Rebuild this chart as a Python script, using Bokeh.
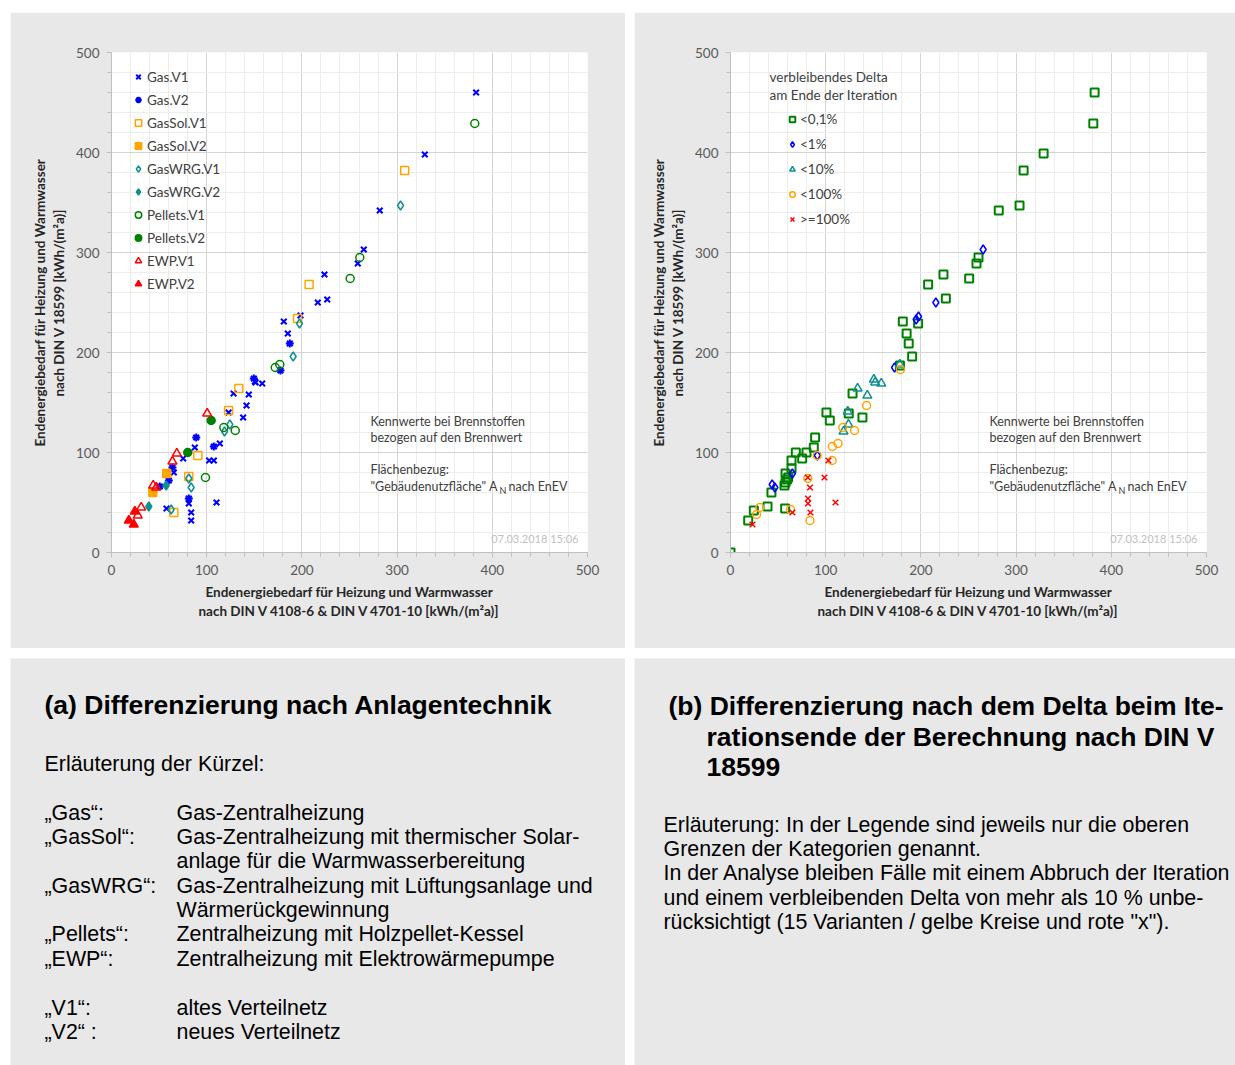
from bokeh.plotting import figure
from bokeh.models import Range1d, SingleIntervalTicker, Legend, LegendItem, Label, Spacer
from bokeh.layouts import row, column
from bokeh.embed import file_html
from bokeh.resources import INLINE

PANEL = "#e8e8e8"
FONT = "Lato"
TXT = "#404040"

# ---------------- data: chart (a) ----------------
gas_v1_x = [57.8, 81.2, 83.7, 83.7, 110.3, 65.5, 75.3, 87.5, 102.6, 107.5, 113.8, 123, 138.3, 141.8, 144.2,
            128.2, 150.6, 158.3, 151.3, 185.2, 181, 198.5, 216.7, 226.6, 223.7, 258.7, 265, 281.8, 329.1, 383]
gas_v1_y = [44, 49, 40, 32, 50, 80, 94, 105, 92, 92, 109, 140, 135, 147, 158,
            159, 171, 169, 170, 219, 231, 237, 250, 253, 278, 289, 303, 342, 398, 460]
gas_v2_x = [50.7, 60.2, 64, 81.2, 89, 107.5, 149.5, 177.5, 187.3]
gas_v2_y = [66, 72, 85, 54, 115, 106, 174, 182, 209]
gassol_v1_x = [65.5, 81.2, 90.7, 123, 133.7, 195.4, 207.6, 308]
gassol_v1_y = [40, 76, 97, 142, 164, 234, 268, 382]
gassol_v2_x = [43.4, 58]
gassol_v2_y = [60, 79]
gaswrg_v1_x = [62.7, 83.7, 81.2, 118.7, 124.3, 190.8, 197.5, 303.6]
gaswrg_v1_y = [43, 65, 74, 121, 128, 196, 229, 347]
gaswrg_v2_x = [39.2, 57.4]
gaswrg_v2_y = [46, 67]
pellets_v1_x = [98.7, 118, 130, 172, 176.8, 250.7, 260.8, 381.6]
pellets_v1_y = [75, 125, 122, 185, 188, 274, 295, 429]
pellets_v2_x = [80.1, 104.7]
pellets_v2_y = [100, 132]
ewp_v1_x = [27.6, 31.2, 43.8, 47, 64, 68.6, 100.5]
ewp_v1_y = [37, 45, 67, 65, 91, 99, 139]
ewp_v2_x = [18.2, 24.5, 23.4]
ewp_v2_y = [32, 41, 28]

# ---------------- data: chart (b) ----------------
d01_x = [0, 18.6, 24.5, 38.9, 43, 57.4, 56.7, 57.8, 59.5, 60.6, 57.8, 64.1, 64.1, 68.6, 75.3, 79.8, 87.5, 88.9,
         100.8, 104.3, 124.2, 138.6, 128.2, 178, 190.8, 187.2, 185, 181, 197.1, 207.6, 226.2, 223.7, 250.7,
         258.4, 260.5, 281.8, 303.6, 307.9, 328.9, 381.1, 382.5]
d01_y = [0, 32, 42, 46, 60, 44, 67, 70, 73, 75, 79, 84, 92, 100, 94, 100, 105, 115,
         140, 132, 139, 135, 159, 187, 196, 209, 219, 231, 229, 268, 254, 278, 274,
         289, 295, 342, 347, 382, 399, 429, 460]
d1_x = [43.8, 46.6, 65, 91.2, 172.3, 195, 197.5, 215.7, 265.4]
d1_y = [68, 65, 79, 97, 185, 233, 236, 250, 303]
d10_x = [118.7, 123.2, 123.9, 133.5, 143.7, 150.6, 152, 158.4, 177.8]
d10_y = [121, 141, 128, 164, 157, 173, 170, 169, 188]
d100_x = [27.3, 30.8, 63, 81.2, 83.5, 91, 106.7, 107, 112.9, 118, 130.3, 142.9, 178.5]
d100_y = [38, 45, 43, 74, 32, 97, 92, 106, 109, 125, 122, 147, 183]
dmax_x = [23.1, 65, 81.2, 83.5, 98.7, 102.8, 81.4, 81.4, 84, 110.3]
dmax_y = [28, 40, 75, 65, 75, 92, 54, 49, 40, 50]

X_LABEL = "Endenergiebedarf für Heizung und Warmwasser\nnach DIN V 4108-6 & DIN V 4701-10 [kWh/(m²a)]"
Y_LABEL = "Endenergiebedarf für Heizung und Warmwasser\nnach DIN V 18599 [kWh/(m²a)]"
NOTE_LINES = ["Kennwerte bei Brennstoffen", "bezogen  auf den Brennwert", "Flächenbezug:"]
NOTE_Y = [131, 115, 83]
STAMP = "07.03.2018 15:06"


def make_chart(width, left, right):
    p = figure(width=width, height=636, x_range=Range1d(0, 500), y_range=Range1d(0, 500),
               output_backend="svg", toolbar_location=None,
               min_border_left=left, min_border_right=right, min_border_top=40, min_border_bottom=96)
    p.border_fill_color = PANEL
    p.background_fill_color = "white"
    p.outline_line_color = None
    for ax in (p.xaxis[0], p.yaxis[0]):
        ax.ticker = SingleIntervalTicker(interval=100, num_minor_ticks=5)
        ax.axis_line_color = "#bfbfbf"
        ax.major_tick_line_color = "#bfbfbf"
        ax.minor_tick_line_color = "#bfbfbf"
        ax.major_tick_out = 5
        ax.major_tick_in = 0
        ax.minor_tick_out = 4
        ax.minor_tick_in = 0
        ax.major_label_text_font = FONT
        ax.major_label_text_font_size = "13.5px"
        ax.major_label_text_color = "#595959"
        ax.major_label_standoff = 7
        ax.axis_label_text_font = FONT
        ax.axis_label_text_font_size = "13.5px"
        ax.axis_label_text_font_style = "bold"
        ax.axis_label_text_color = "#262626"
        ax.axis_label_standoff = 6
    p.xaxis.axis_label = X_LABEL
    p.yaxis.axis_label = Y_LABEL
    for g in (p.xgrid[0], p.ygrid[0]):
        g.grid_line_color = "#d4d4d4"
        g.minor_grid_line_color = "#ededed"
    common = dict(text_font=FONT, text_font_size="12.5px", text_color=TXT, text_baseline="middle")
    for yv, t in zip(NOTE_Y, NOTE_LINES):
        p.add_layout(Label(x=272, y=yv, text=t, **common))
    p.add_layout(Label(x=272, y=66, text='"Gebäudenutzfläche" A', **common))
    p.add_layout(Label(x=272, y=62, x_offset=129, text="N", text_font=FONT, text_font_size="9px",
                       text_color=TXT, text_baseline="middle"))
    p.add_layout(Label(x=272, y=66, x_offset=138, text="nach EnEV", **common))
    p.add_layout(Label(x=490.5, y=14, text=STAMP, text_font=FONT, text_font_size="11px",
                       text_color="#bfbfbf", text_baseline="middle", text_align="right"))
    return p


# ---------------- chart (a) ----------------
pa = make_chart(615, 101, 38)
BLUE, ORANGE, TEAL, GREEN, RED = "#0000ff", "#ffa500", "#109090", "#008000", "#ff0000"
specs_a = [
    ("Gas.V1", gas_v1_x, gas_v1_y, "x", BLUE, False, 8),
    ("Gas.V2", gas_v2_x, gas_v2_y, "asterisk", BLUE, False, 8),
    ("GasSol.V1", gassol_v1_x, gassol_v1_y, "square", ORANGE, False, 8),
    ("GasSol.V2", gassol_v2_x, gassol_v2_y, "square", ORANGE, True, 8),
    ("GasWRG.V1", gaswrg_v1_x, gaswrg_v1_y, "diamond", TEAL, False, 9),
    ("GasWRG.V2", gaswrg_v2_x, gaswrg_v2_y, "diamond", TEAL, True, 9),
    ("Pellets.V1", pellets_v1_x, pellets_v1_y, "circle", GREEN, False, 8),
    ("Pellets.V2", pellets_v2_x, pellets_v2_y, "circle", GREEN, True, 8),
    ("EWP.V1", ewp_v1_x, ewp_v1_y, "triangle", RED, False, 9),
    ("EWP.V2", ewp_v2_x, ewp_v2_y, "triangle", RED, True, 9),
]
items_a = []
for name, xs, ys, mk, col, filled, sz in specs_a:
    r = pa.scatter(xs, ys, marker=mk, size=sz, line_color=col, line_width=2 if mk in ("x", "asterisk") else 1.5,
                   fill_color=col if filled else None)
    items_a.append(LegendItem(label=name, renderers=[r]))
leg_a = Legend(items=items_a, location=(19, 258), padding=0, spacing=2, glyph_height=21, label_height=21,
               glyph_width=16, label_standoff=1, background_fill_alpha=0, border_line_color=None,
               label_text_font=FONT, label_text_font_size="13.5px", label_text_color=TXT)
pa.add_layout(leg_a)

# ---------------- chart (b) ----------------
pb = make_chart(601, 96, 29)
specs_b = [
    ("<0,1%", d01_x, d01_y, "square", GREEN, 8),
    ("<1%", d1_x, d1_y, "diamond", BLUE, 9),
    ("<10%", d10_x, d10_y, "triangle", TEAL, 9),
    ("<100%", d100_x, d100_y, "circle", ORANGE, 8),
    (">=100%", dmax_x, dmax_y, "x", RED, 8),
]
items_b = []
for name, xs, ys, mk, col, sz in specs_b:
    r = pb.scatter(xs, ys, marker=mk, size=sz, line_color=col, line_width=2 if mk == "square" else 1.5,
                   fill_color=None)
    items_b.append(LegendItem(label=name, renderers=[r]))
leg_b = Legend(items=items_b, location=(55, 322), padding=0, spacing=3, glyph_height=22, label_height=22,
               glyph_width=14, label_standoff=1, background_fill_alpha=0, border_line_color=None,
               label_text_font=FONT, label_text_font_size="13.5px", label_text_color=TXT)
pb.add_layout(leg_b)
pb.add_layout(Label(x=41, y=476, text="verbleibendes  Delta", text_font=FONT, text_font_size="13.5px",
                    text_color=TXT, text_baseline="middle"))
pb.add_layout(Label(x=41, y=458, text="am Ende der Iteration", text_font=FONT, text_font_size="13.5px",
                    text_color=TXT, text_baseline="middle"))


# ---------------- text panels ----------------
def make_text_panel(width):
    t = figure(width=width, height=407, x_range=Range1d(0, width), y_range=Range1d(407, 0),
               output_backend="svg", toolbar_location=None, x_axis_location=None, y_axis_location=None,
               min_border=0)
    t.grid.visible = False
    t.background_fill_color = PANEL
    t.border_fill_color = PANEL
    t.outline_line_color = None
    return t


SANS = "Liberation Sans"
TITLE_SIZE = "26.5px"
BODY_SIZE = "21.4px"
ta = make_text_panel(615)
ta.add_layout(Label(x=34, y=46, text="(a) Differenzierung nach Anlagentechnik", text_font=SANS,
                    text_font_size=TITLE_SIZE, text_font_style="bold", text_color="black", text_baseline="middle"))
ta.add_layout(Label(x=34, y=105, text="Erläuterung der Kürzel:", text_font=SANS, text_font_size=BODY_SIZE,
                    text_color="black", text_baseline="middle"))
abbr_keys = ["„Gas“:", "„GasSol“:", "", "„GasWRG“:", "", "„Pellets“:", "„EWP“:", "„V1“:", "„V2“ :"]
abbr_text = ["Gas-Zentralheizung", "Gas-Zentralheizung mit thermischer Solar-",
             "anlage für die Warmwasserbereitung", "Gas-Zentralheizung mit Lüftungsanlage und",
             "Wärmerückgewinnung", "Zentralheizung mit Holzpellet-Kessel", "Zentralheizung mit Elektrowärmepumpe",
             "altes Verteilnetz", "neues Verteilnetz"]
abbr_y = [154, 178, 202, 227, 251, 275, 300, 349, 373]
for k, v, yy in zip(abbr_keys, abbr_text, abbr_y):
    if k:
        ta.add_layout(Label(x=34, y=yy, text=k, text_font=SANS, text_font_size=BODY_SIZE,
                            text_color="black", text_baseline="middle"))
    ta.add_layout(Label(x=166, y=yy, text=v, text_font=SANS, text_font_size=BODY_SIZE,
                        text_color="black", text_baseline="middle"))

tb = make_text_panel(601)
title_b = [("(b) Differenzierung nach dem Delta beim Ite-", 34, 47),
           ("rationsende der Berechnung nach DIN V", 72, 78),
           ("18599", 72, 108)]
for txt, xx, yy in title_b:
    tb.add_layout(Label(x=xx, y=yy, text=txt, text_font=SANS, text_font_size=TITLE_SIZE, text_font_style="bold",
                        text_color="black", text_baseline="middle"))
body_b = ["Erläuterung: In der Legende sind jeweils nur die oberen",
          "Grenzen der Kategorien genannt.",
          "In der Analyse bleiben Fälle mit einem Abbruch der Iteration",
          "und einem verbleibenden Delta von mehr als 10 % unbe-",
          "rücksichtigt (15 Varianten / gelbe Kreise und rote \"x\")."]
body_y = [166, 190, 214, 239, 263]
for txt, yy in zip(body_b, body_y):
    tb.add_layout(Label(x=29, y=yy, text=txt, text_font=SANS, text_font_size=BODY_SIZE,
                        text_color="black", text_baseline="middle"))

root = column(Spacer(height=12),
              row(Spacer(width=10), pa, Spacer(width=9), pb),
              Spacer(height=10),
              row(Spacer(width=10), ta, Spacer(width=9), tb))

open("out.html", "w").write(file_html(root, INLINE))
